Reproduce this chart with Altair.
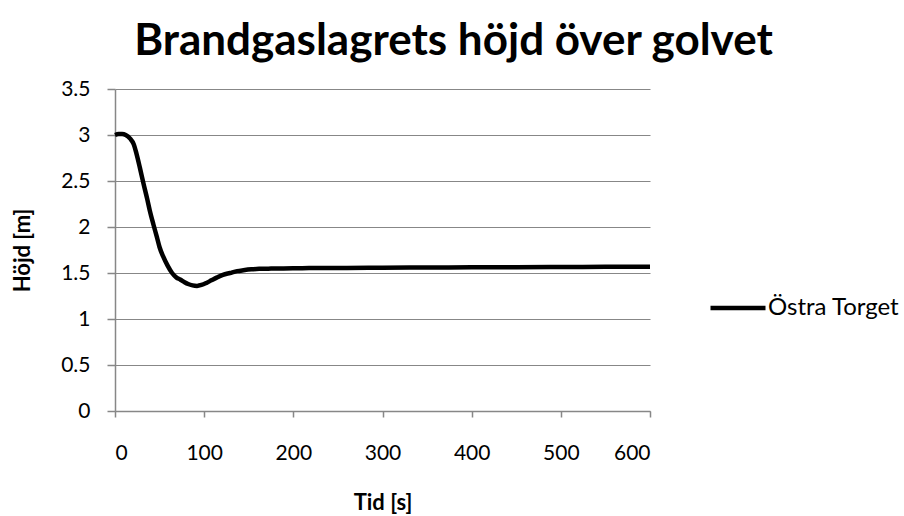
import altair as alt
import pandas as pd

# Smoke layer height above the floor over time
tid = [0, 4, 8, 12, 17, 21, 24, 28, 32, 36, 39, 43, 47, 50, 54, 59, 64, 69, 73,
       78, 82, 87, 92, 97, 103, 108, 114, 121, 129, 137, 144, 153, 162, 175, 189,
       210, 230, 260, 300, 350, 400, 450, 500, 550, 600]
hojd = [3.00, 3.01, 3.01, 3.00, 2.96, 2.90, 2.80, 2.64, 2.47, 2.31, 2.18, 2.03,
        1.89, 1.78, 1.68, 1.58, 1.50, 1.45, 1.43, 1.40, 1.38, 1.365, 1.36, 1.37,
        1.395, 1.42, 1.45, 1.48, 1.50, 1.52, 1.53, 1.54, 1.545, 1.548, 1.55,
        1.552, 1.555, 1.555, 1.558, 1.56, 1.562, 1.563, 1.565, 1.567, 1.568]
serie = "Östra Torget"

df = pd.DataFrame({"Tid": tid, "Höjd": hojd, "Serie": [serie] * len(tid)})

FONT = "Lato"

chart = alt.Chart(df).mark_line(strokeWidth=4.5, interpolate="monotone").encode(
    x=alt.X("Tid:Q", title="Tid [s]",
            scale=alt.Scale(domain=[0, 600], nice=False),
            axis=alt.Axis(values=[0, 100, 200, 300, 400, 500, 600], grid=False,
                          tickSize=6, labelPadding=25, titlePadding=29)),
    y=alt.Y("Höjd:Q", title="Höjd [m]",
            scale=alt.Scale(domain=[0, 3.5], nice=False),
            axis=alt.Axis(values=[0, 0.5, 1, 1.5, 2, 2.5, 3, 3.5], tickSize=8,
                          labelPadding=17, titlePadding=26,
                          labelExpr="datum.value == 0 ? '0' : format(datum.value, '.2~f')")),
    color=alt.Color("Serie:N", scale=alt.Scale(range=["#000000"]),
                    legend=alt.Legend(title=None, orient="none", legendX=593,
                                      legendY=189, symbolType="stroke",
                                      symbolSize=3025, symbolStrokeWidth=4.5,
                                      labelFontSize=24, labelFont=FONT,
                                      labelColor="#000000", labelOffset=0)),
).properties(
    width=535,
    height=322,
    title=alt.TitleParams("Brandgaslagrets höjd över golvet", fontSize=44,
                          font=FONT, fontWeight="bold", color="#000000",
                          anchor="middle", dx=71, offset=14),
    autosize=alt.AutoSizeParams(type="none"),
    padding={"left": 115, "top": 89, "right": 254, "bottom": 105},
).configure_view(
    stroke=None
).configure_axis(
    domainColor="#878787",
    tickColor="#878787",
    gridColor="#878787",
    domainWidth=1.5,
    tickWidth=1.5,
    labelFont=FONT,
    labelFontSize=21,
    labelColor="#000000",
    titleFont=FONT,
    titleFontSize=22,
    titleFontWeight="bold",
    titleColor="#000000",
)

chart.save("out.html", embed_options={"renderer": "svg", "actions": False})
